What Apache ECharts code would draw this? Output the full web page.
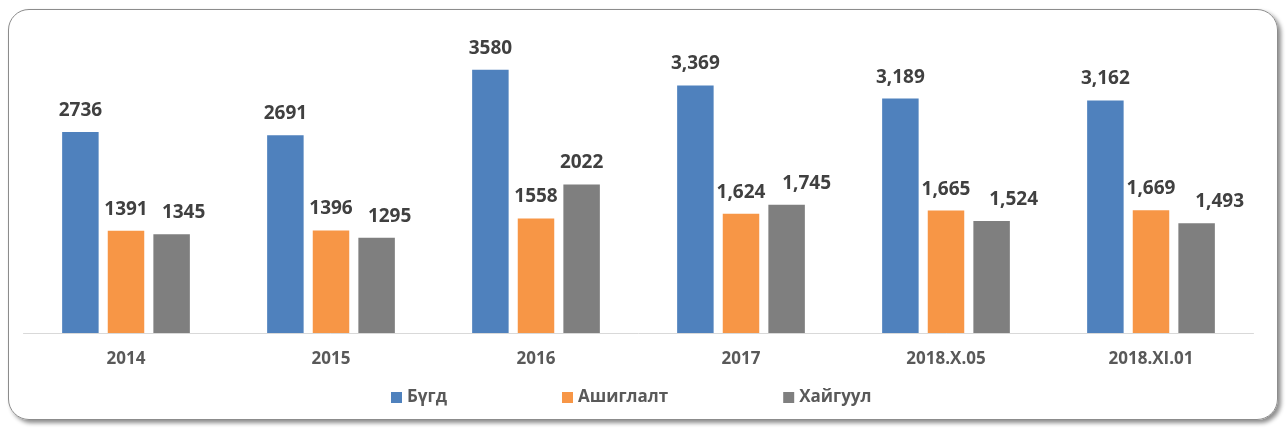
<!DOCTYPE html>
<html>
<head>
<meta charset="utf-8">
<script src="https://cdn.jsdelivr.net/npm/echarts@6/dist/echarts.min.js"></script>
<style>
  html, body { margin: 0; padding: 0; background: #fff; }
  .frame {
    position: absolute; left: 8px; top: 9px; width: 1268px; height: 409px;
    border: 1.5px solid #8c8c8c; border-radius: 21px;
    box-shadow: 3px 3px 4px rgba(0, 0, 0, 0.45);
  }
  #chart { position: absolute; left: 0; top: 0; width: 1286px; height: 429px; }
</style>
</head>
<body>
<div class="frame"></div>
<div id="chart"></div>
<script>
  const categories = ["2014", "2015", "2016", "2017", "2018.X.05", "2018.XI.01"];
  const total = [2736, 2691, 3580, 3369, 3189, 3162];
  const exploitation = [1391, 1396, 1558, 1624, 1665, 1669];
  const exploration = [1345, 1295, 2022, 1745, 1524, 1493];
  // the source shows thousands separators only from 2017 on
  const withComma = [false, false, false, true, true, true];
  // grey labels were nudged right in the original to avoid overlap
  const greyLabelNudge = [12, 13, 0, 20, 22, 23];

  const fmt = function (p) {
    return withComma[p.dataIndex] ? p.value.toLocaleString("en-US") : String(p.value);
  };

  const labelStyle = {
    show: true,
    position: "top",
    distance: 12,
    formatter: fmt,
    fontFamily: "Open Sans",
    fontWeight: "bold",
    fontSize: 19,
    color: "#404040",
  };

  const myChart = echarts.init(document.getElementById("chart"));
  const option = {
    animation: false,
    grid: { left: 23.5, right: 32.5, top: 39, bottom: 96 },
    legend: {
      left: 386,
      top: 384,
      icon: "rect",
      itemWidth: 11,
      itemHeight: 11,
      itemGap: 115,
      textStyle: {
        fontFamily: "Open Sans",
        fontWeight: "bold",
        fontSize: 17,
        color: "#595959",
      },
    },
    xAxis: {
      type: "category",
      data: categories,
      axisLine: { lineStyle: { color: "#d9d9d9", width: 1 } },
      axisTick: { show: false },
      axisLabel: {
        margin: 18,
        fontFamily: "Open Sans",
        fontWeight: "bold",
        fontSize: 17,
        color: "#595959",
      },
    },
    yAxis: {
      type: "value",
      min: 0,
      max: 4000,
      show: false,
    },
    series: [
      {
        name: "Бүгд",
        type: "bar",
        data: total,
        barWidth: "17.8%",
        barGap: "25%",
        itemStyle: { color: "#4f81bd" },
        label: labelStyle,
      },
      {
        name: "Ашиглалт",
        type: "bar",
        data: exploitation,
        barWidth: "17.8%",
        barGap: "25%",
        itemStyle: { color: "#f79646" },
        label: labelStyle,
      },
      {
        name: "Хайгуул",
        type: "bar",
        data: exploration.map((v, i) => ({
          value: v,
          label: { offset: [greyLabelNudge[i], 0] },
        })),
        barWidth: "17.8%",
        barGap: "25%",
        itemStyle: { color: "#7f7f7f" },
        label: labelStyle,
      },
    ],
  };
  myChart.setOption(option);
</script>
</body>
</html>
